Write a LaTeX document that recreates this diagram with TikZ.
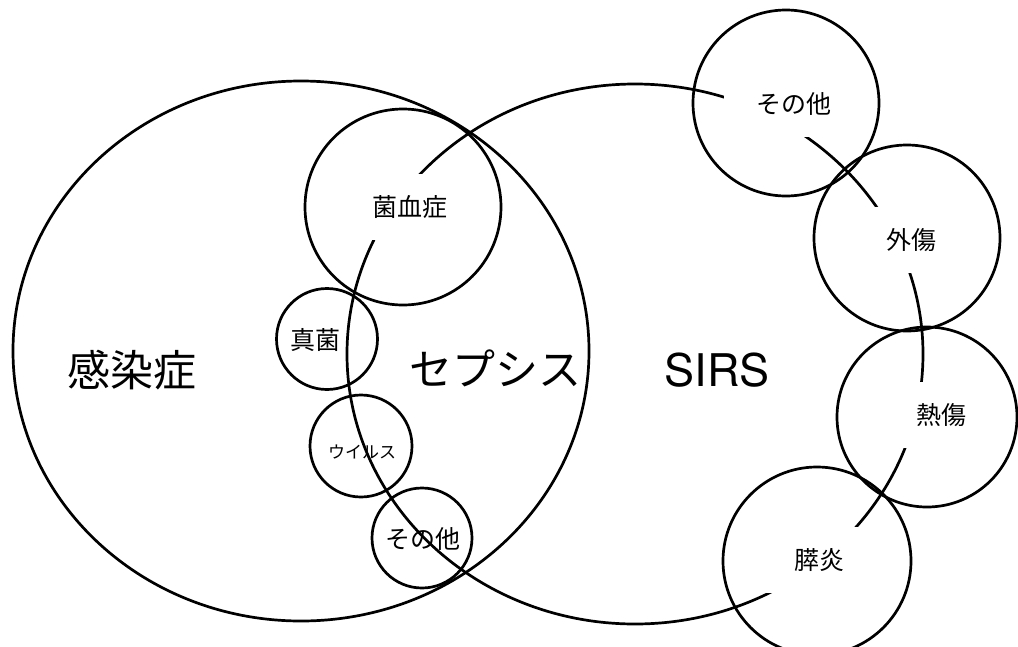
\documentclass[tikz,border=0pt]{standalone}
\usepackage{fontspec}
\usetikzlibrary{shapes.geometric}
\newfontfamily\jp{Noto Sans CJK JP}
\newfontfamily\lat{TeX Gyre Heros}
\begin{document}
\begin{tikzpicture}[x=1pt,y=-1pt,
  setring/.style={ellipse, draw, line width=2.7pt, inner sep=0pt, minimum width=576pt, minimum height=540pt},
  bubble/.style={circle, draw, line width=2.7pt, inner sep=0pt},
  bigtxt/.style={font=\jp\fontsize{43}{43}\selectfont, inner sep=0pt},
  smalltxt/.style={font=\jp\fontsize{25}{25}\selectfont, inner sep=0pt},
  masked/.style={smalltxt, fill=white, minimum width=140pt, minimum height=66pt}]
\useasboundingbox (0,0) rectangle (1018,646);
% the two large sets
\node[setring] (infection) at (301,351) {};
\node[setring] (sirs) at (635,354) {};
% labels (some with white masks hiding the SIRS outline)
\node[bigtxt] (tInfection) at (132,370) {感染症};
\node[bigtxt] (tSepsis) at (495,368) {セプシス};
\node[font=\lat\fontsize{45}{45}\selectfont, inner sep=0pt] (tSirs) at (717,370) {SIRS};
\node[masked] (tBact) at (410,207) {菌血症};
\node[smalltxt] (tFungi) at (315,340) {真菌};
\node[font=\jp\fontsize{17}{17}\selectfont, inner sep=0pt] (tVirus) at (362,452) {ウイルス};
\node[smalltxt] (tOtherA) at (423,539) {その他};
\node[masked] (tOtherB) at (794,104) {その他};
\node[masked] (tTrauma) at (911,240) {外傷};
\node[masked] (tBurn) at (941,415) {熱傷};
\node[masked] (tPanc) at (819,560) {膵炎};
% small circles
\node[bubble, minimum size=196pt] (cBact) at (403,207) {};
\node[bubble, minimum size=101pt] (cFungi) at (327,339) {};
\node[bubble, minimum size=102pt] (cVirus) at (361,446) {};
\node[bubble, minimum size=100pt] (cOtherA) at (422,538) {};
\node[bubble, minimum size=186pt] (cOtherB) at (786,103) {};
\node[bubble, minimum size=186pt] (cTrauma) at (907,238) {};
\node[bubble, minimum size=180pt] (cBurn) at (927,417) {};
\node[bubble, minimum size=188pt] (cPanc) at (817,561) {};
\end{tikzpicture}
\end{document}
